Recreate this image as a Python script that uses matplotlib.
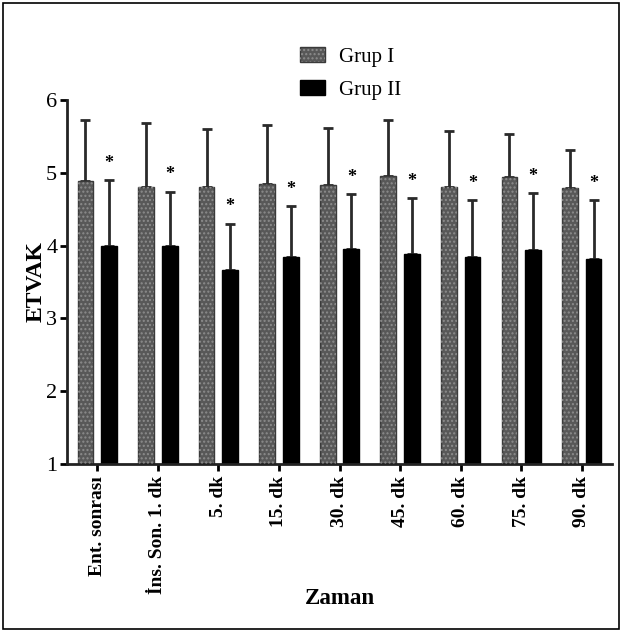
import matplotlib
matplotlib.use("Agg")
import matplotlib.pyplot as plt
import numpy as np
from matplotlib.patches import Rectangle

plt.rcParams["font.family"] = ["Liberation Serif", "DejaVu Serif"]
plt.rcParams["hatch.linewidth"] = 1.0

categories = ["Ent. sonrası", "İns. Son. 1. dk", "5. dk", "15. dk", "30. dk",
              "45. dk", "60. dk", "75. dk", "90. dk"]
grup1_mean = [4.89, 4.80, 4.81, 4.84, 4.83, 4.96, 4.81, 4.94, 4.79]
grup1_sd = [0.83, 0.89, 0.79, 0.82, 0.78, 0.77, 0.76, 0.59, 0.52]
grup2_mean = [3.99, 3.99, 3.66, 3.84, 3.95, 3.89, 3.84, 3.94, 3.82]
grup2_sd = [0.91, 0.75, 0.64, 0.70, 0.76, 0.76, 0.78, 0.78, 0.80]
legend_labels = ["Grup I", "Grup II"]

x = np.arange(len(categories))
w = 0.26
off = 0.195

fig = plt.figure(figsize=(6.22, 6.31), dpi=100)
ax = fig.add_axes([0.1077, 0.2647, 0.8763, 0.5768])

# grey dotted bars: solid base plus a dotted overlay
b1 = ax.bar(x - off, grup1_mean, w, bottom=0, color="#585858", edgecolor="#3a3a3a",
            linewidth=1.0, zorder=2)
b1h = ax.bar(x - off, grup1_mean, w, fill=False, hatch="....", edgecolor="#8c8c8c",
             linewidth=0, zorder=3)
b2 = ax.bar(x + off, grup2_mean, w, color="black", edgecolor="black", zorder=2)

ax.errorbar(x - off, grup1_mean, yerr=[np.zeros(len(x)), grup1_sd], fmt="none",
            ecolor="#2a2a2a", elinewidth=2, capsize=3.5, capthick=2, zorder=1)
ax.errorbar(x + off, grup2_mean, yerr=[np.zeros(len(x)), grup2_sd], fmt="none",
            ecolor="#2a2a2a", elinewidth=2, capsize=3.5, capthick=2, zorder=1)

for xi, m, s in zip(x + off, grup2_mean, grup2_sd):
    ax.annotate("*", (xi, m + s), xytext=(0, 6), textcoords="offset points",
                ha="center", va="bottom", fontsize=13, fontweight="bold")

ax.set_xlim(-0.5, 8.5)
ax.set_ylim(1, 6)
ax.set_yticks([1, 2, 3, 4, 5, 6])
ax.set_xticks(x)
ax.set_xticklabels(categories, rotation=90, fontweight="bold", fontsize=14)
ax.tick_params(axis="y", labelsize=16, width=2, length=5, pad=2)
ax.tick_params(axis="x", width=2, length=5)
for s in ["top", "right"]:
    ax.spines[s].set_visible(False)
for s in ["left", "bottom"]:
    ax.spines[s].set_linewidth(2)
    ax.spines[s].set_color("#222222")

ax.set_ylabel("ETVAK", fontweight="bold", fontsize=17, labelpad=0)
fig.text(0.547, 0.035, "Zaman", ha="center", va="bottom", fontweight="bold", fontsize=16.5)

fig.legend([(b1[0], b1h[0]), b2[0]], legend_labels, loc="upper left",
           bbox_to_anchor=(0.452, 0.955), frameon=False, fontsize=15,
           handlelength=1.2, handleheight=0.7, handletextpad=0.7, labelspacing=0.65)

fig.add_artist(Rectangle((0.005, 0.003), 0.99, 0.993, transform=fig.transFigure,
                         fill=False, edgecolor="black", linewidth=1.2))

fig.savefig("out.png", dpi=100)
